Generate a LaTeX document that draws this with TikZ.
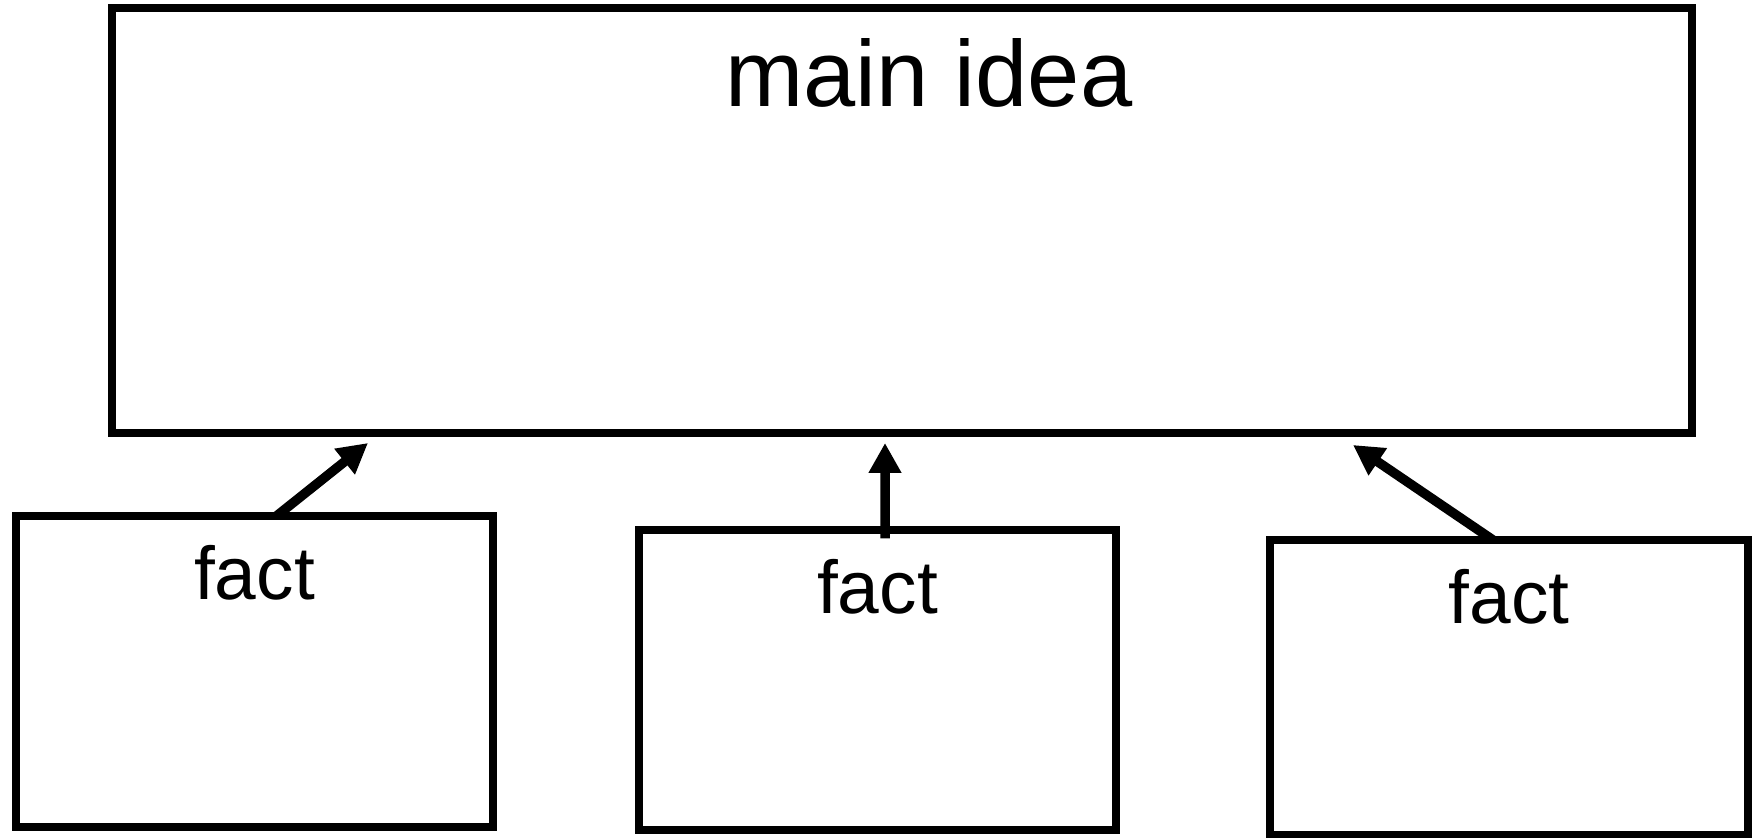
\documentclass[tikz,border=0pt]{standalone}
\usepackage{fontspec}
\setmainfont{Liberation Sans}
\usetikzlibrary{positioning, arrows.meta}

\begin{document}
\begin{tikzpicture}[
  box/.style={
    draw=black, line width=0.08cm, rectangle, inner sep=0pt, outer sep=0pt,
    minimum width=#1
  },
  boxlabel/.style={font=\fontsize{21.3}{25}\selectfont, anchor=base, inner sep=0pt},
  link/.style={
    draw=black, line width=0.095cm,
    -{Triangle[length=0.3cm, width=0.31cm]}
  }
]

\useasboundingbox (0,0) rectangle (17.52,-8.38);

% ── Main idea ────────────────────────────────────────────────────────────────
\node[box=15.80cm, minimum height=4.255cm] (main) at (9.02,-2.2075) {};
\node[font=\fontsize{26.7}{32}\selectfont, anchor=base, inner sep=0pt] (mainlab)
  at ([xshift=0.27cm, yshift=-0.99cm]main.north) {main idea};

% ── Supporting facts ─────────────────────────────────────────────────────────
\node[box=4.77cm, minimum height=3.11cm] (fact1) at (2.545,-6.715) {};
\node[box=4.77cm, minimum height=3.00cm] (fact2) at (8.775,-6.80) {};
\node[box=4.78cm, minimum height=2.955cm] (fact3) at (15.09,-6.8775) {};

\node[boxlabel] (fact1lab) at ([yshift=-0.84cm]fact1.north) {fact};
\node[boxlabel] (fact2lab) at ([yshift=-0.84cm]fact2.north) {fact};
\node[boxlabel] (fact3lab) at ([yshift=-0.84cm]fact3.north) {fact};

% ── Arrows up to the main idea ───────────────────────────────────────────────
\draw[link] ([xshift=0.22cm]fact1.north)
  -- ([xshift=2.56cm, yshift=-0.095cm]main.south west);
\draw[link] ([xshift=0.075cm, yshift=-0.085cm]fact2.north)
  -- ([xshift=7.73cm, yshift=-0.095cm]main.south west);
\draw[link] ([xshift=-0.16cm]fact3.north)
  -- ([xshift=12.41cm, yshift=-0.115cm]main.south west);

\end{tikzpicture}
\end{document}
